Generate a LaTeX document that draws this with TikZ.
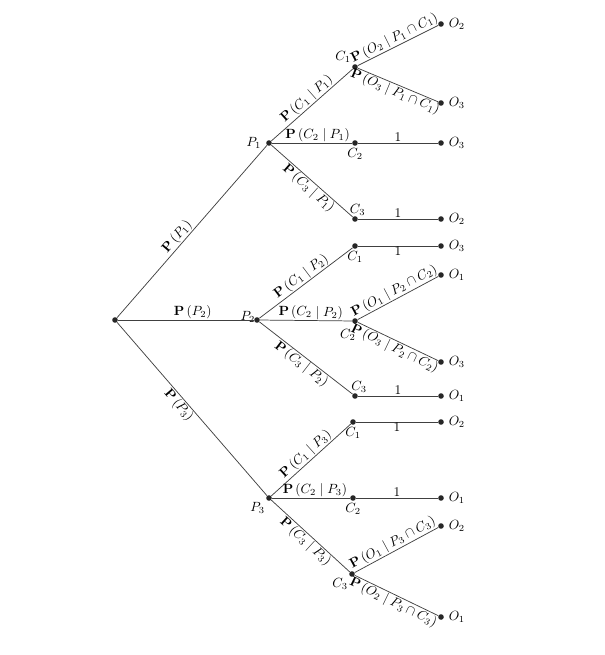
\documentclass[tikz,border=0pt]{standalone}
\begin{document}
\begin{tikzpicture}[x=0.75pt,y=-0.75pt,
  dot/.style={circle,fill=black!85,inner sep=0pt,minimum size=4.2pt},
  br/.style={draw=black!75,line width=0.55pt},
  el/.style={midway,sloped,inner sep=0.6pt}]
\useasboundingbox (0,0) rectangle (605,655);
% level 0/1
\node[dot] (R) at (115,320) {};
\node[dot,label={[label distance=0pt]left:$P_1$}] (P1) at (269,143) {};
\node[dot,label={[label distance=-4.5pt,yshift=2pt]left:$P_2$}] (P2) at (257,320) {};
\node[dot,label={[label distance=-3pt]below left:$P_3$}] (P3) at (269,498) {};
% P1 branch
\node[dot,label={[label distance=-3pt]above left:$C_1$}] (A1) at (355,67) {};
\node[dot,label={[label distance=-2pt]below:$C_2$}] (A2) at (355,143) {};
\node[dot,label={[label distance=-3pt,xshift=2pt]above:$C_3$}] (A3) at (355,219) {};
\node[dot,label=right:$O_2$] (A1a) at (441,24) {};
\node[dot,label=right:$O_3$] (A1b) at (441,103) {};
\node[dot,label=right:$O_3$] (A2a) at (441,143) {};
\node[dot,label=right:$O_2$] (A3a) at (441,219) {};
% P2 branch
\node[dot,label={[label distance=-2pt]below:$C_1$}] (B1) at (355,246) {};
\node[dot,label={[label distance=-3pt,xshift=3.5pt,yshift=-3.5pt]below left:$C_2$}] (B2) at (355,321) {};
\node[dot,label={[label distance=-3pt,xshift=3pt]above:$C_3$}] (B3) at (355,396) {};
\node[dot,label=right:$O_3$] (B1a) at (441,246) {};
\node[dot,label=right:$O_1$] (B2a) at (441,275) {};
\node[dot,label=right:$O_3$] (B2b) at (441,362) {};
\node[dot,label=right:$O_1$] (B3a) at (441,396) {};
% P3 branch
\node[dot,label={[label distance=-2pt]below:$C_1$}] (D1) at (353,422) {};
\node[dot,label={[label distance=-2pt]below:$C_2$}] (D2) at (353,498) {};
\node[dot,label={[label distance=-3pt]below left:$C_3$}] (D3) at (352,574) {};
\node[dot,label=right:$O_2$] (D1a) at (441,422) {};
\node[dot,label=right:$O_1$] (D2a) at (441,498) {};
\node[dot,label=right:$O_2$] (D3a) at (441,526) {};
\node[dot,label=right:$O_1$] (D3b) at (441,617) {};
% edges level 1
\draw[br] (R) -- node[el,above,pos=0.44]{$\mathbf{P}\left(P_1\right)$} (P1);
\draw[br] (R) -- node[el,above,pos=0.55]{$\mathbf{P}\left(P_2\right)$} (P2);
\draw[br] (R) -- node[el,below,pos=0.45]{$\mathbf{P}\left(P_3\right)$} (P3);
% P1
\draw[br] (P1) -- node[el,above]{$\mathbf{P}\left(C_1 \mid P_1\right)$} (A1);
\draw[br] (P1) -- node[el,above,pos=0.57]{$\mathbf{P}\left(C_2 \mid P_1\right)$} (A2);
\draw[br] (P1) -- node[el,below,pos=0.52]{$\mathbf{P}\left(C_3 \mid P_1\right)$} (A3);
\draw[br] (A1) -- node[el,above]{$\mathbf{P}\left(O_2 \mid P_1\cap C_1\right)$} (A1a);
\draw[br] (A1) -- node[el,below]{$\mathbf{P}\left(O_3 \mid P_1\cap C_1\right)$} (A1b);
\draw[br] (A2) -- node[el,above]{$1$} (A2a);
\draw[br] (A3) -- node[el,above]{$1$} (A3a);
% P2
\draw[br] (P2) -- node[el,above]{$\mathbf{P}\left(C_1 \mid P_2\right)$} (B1);
\draw[br] (P2) -- node[el,above,pos=0.55]{$\mathbf{P}\left(C_2 \mid P_2\right)$} (B2);
\draw[br] (P2) -- node[el,below]{$\mathbf{P}\left(C_3 \mid P_2\right)$} (B3);
\draw[br] (B1) -- node[el,below]{$1$} (B1a);
\draw[br] (B2) -- node[el,above]{$\mathbf{P}\left(O_1 \mid P_2\cap C_2\right)$} (B2a);
\draw[br] (B2) -- node[el,below]{$\mathbf{P}\left(O_3 \mid P_2\cap C_2\right)$} (B2b);
\draw[br] (B3) -- node[el,above]{$1$} (B3a);
% P3
\draw[br] (P3) -- node[el,above]{$\mathbf{P}\left(C_1 \mid P_3\right)$} (D1);
\draw[br] (P3) -- node[el,above,pos=0.55]{$\mathbf{P}\left(C_2 \mid P_3\right)$} (D2);
\draw[br] (P3) -- node[el,below]{$\mathbf{P}\left(C_3 \mid P_3\right)$} (D3);
\draw[br] (D1) -- node[el,below]{$1$} (D1a);
\draw[br] (D2) -- node[el,above]{$1$} (D2a);
\draw[br] (D3) -- node[el,above]{$\mathbf{P}\left(O_1 \mid P_3\cap C_3\right)$} (D3a);
\draw[br] (D3) -- node[el,below]{$\mathbf{P}\left(O_2 \mid P_3\cap C_3\right)$} (D3b);
\end{tikzpicture}
\end{document}
